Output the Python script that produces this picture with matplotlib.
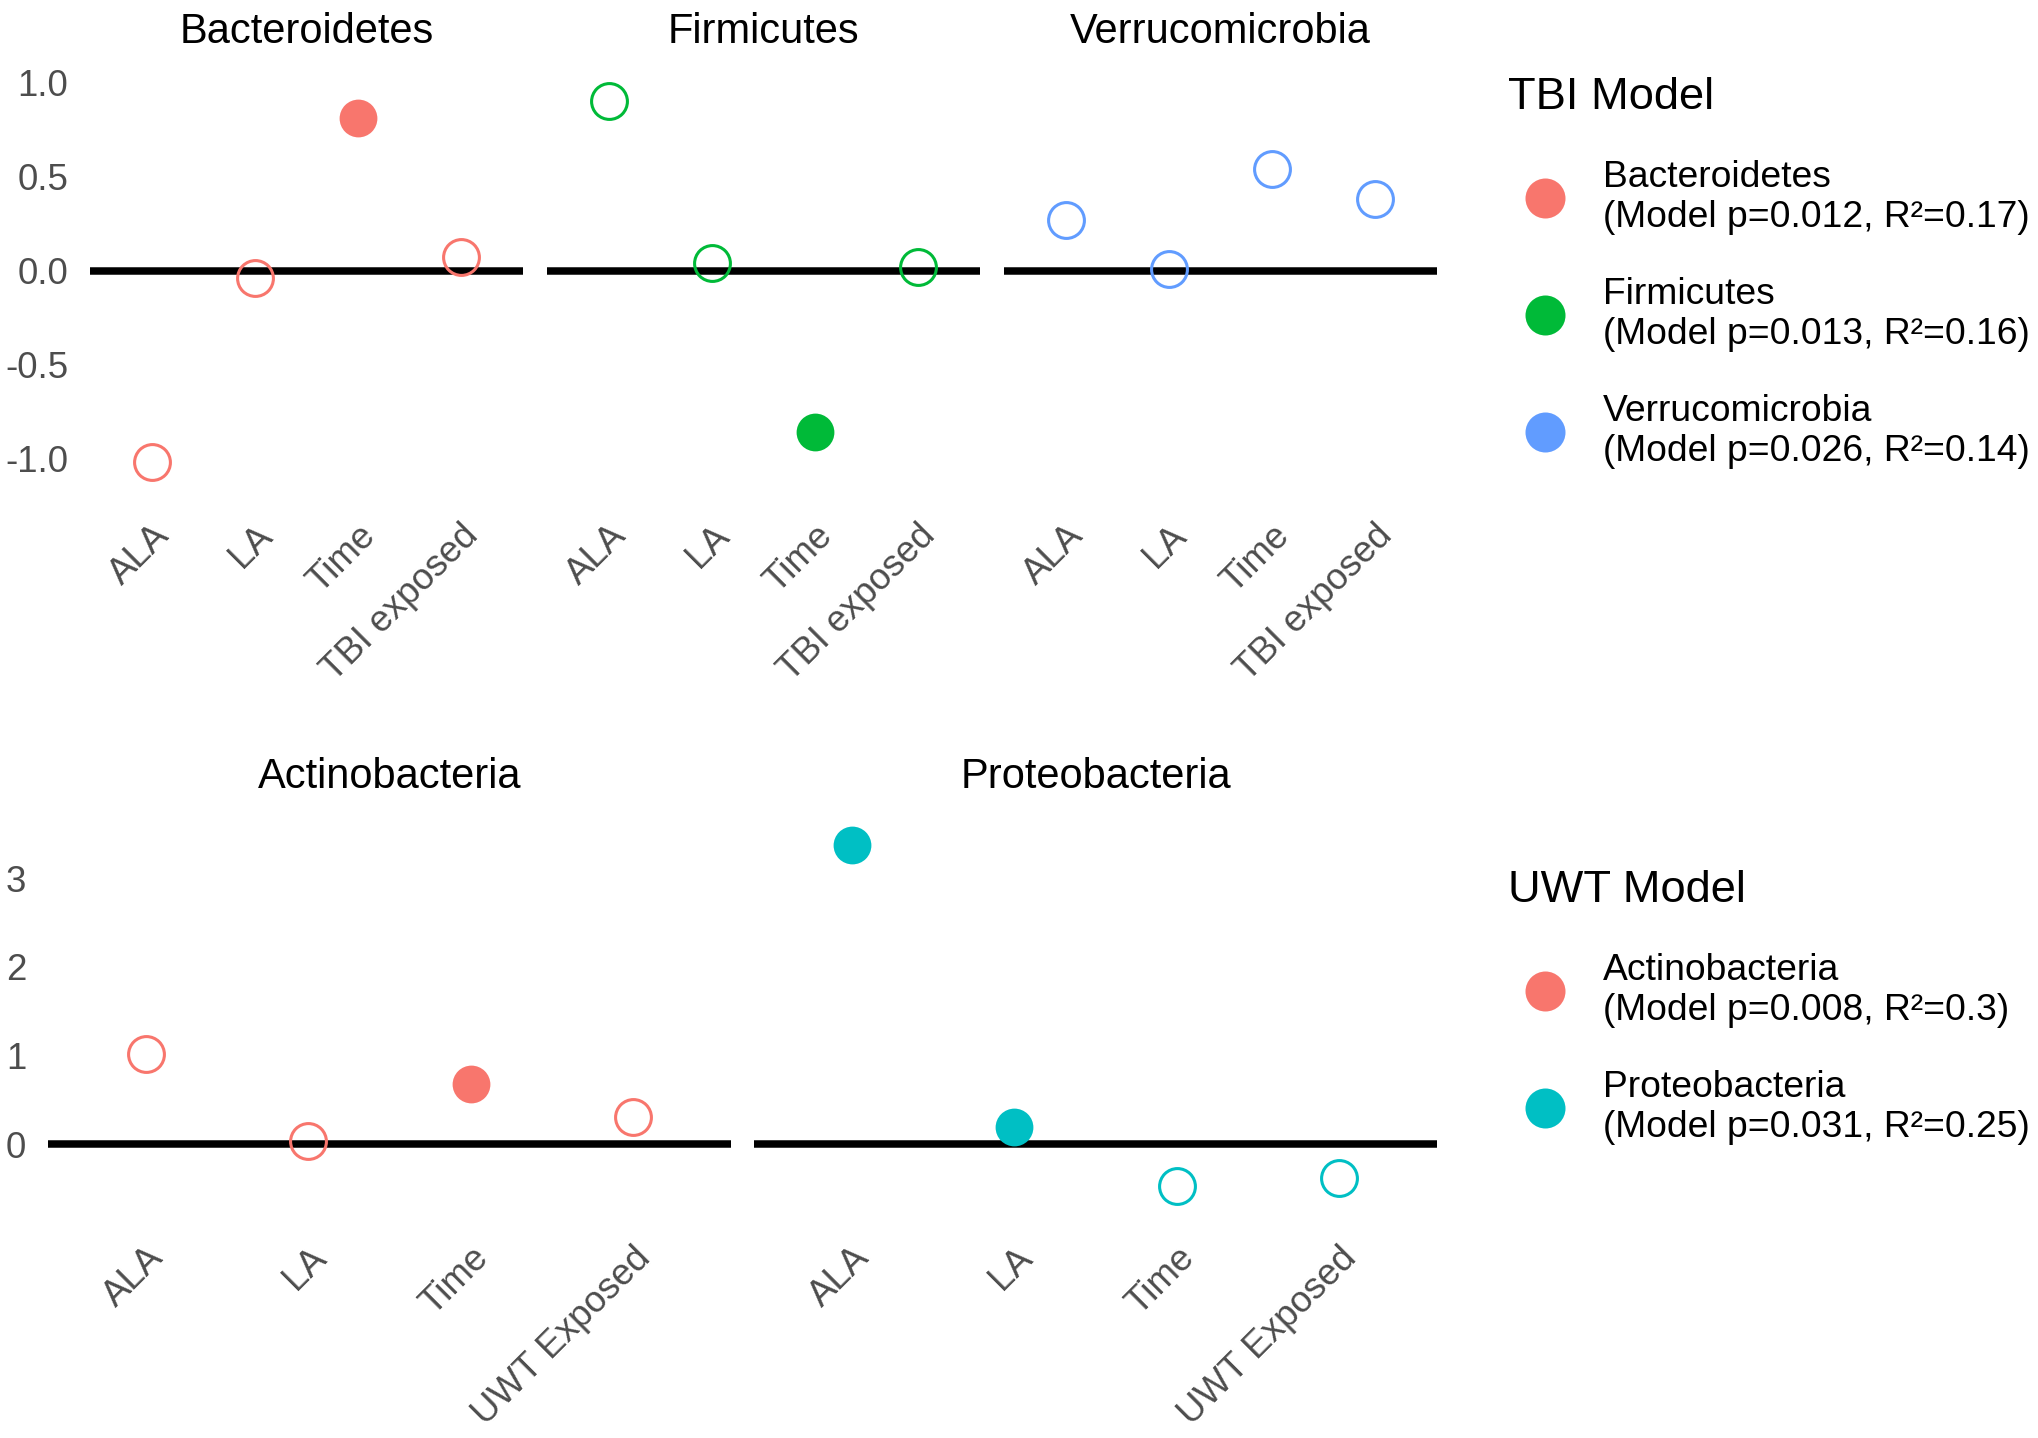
import numpy as np
import matplotlib
matplotlib.use("Agg")
import matplotlib.pyplot as plt
from matplotlib.lines import Line2D

plt.rcParams['font.family'] = ['Liberation Sans', 'DejaVu Sans']
plt.rcParams['axes.unicode_minus'] = False

W, H = 2038, 1438

# --- data ---
tbi_terms = ["ALA", "LA", "Time", "TBI exposed"]
uwt_terms = ["ALA", "LA", "Time", "UWT Exposed"]

tbi_phyla = ["Bacteroidetes", "Firmicutes", "Verrucomicrobia"]
bacteroidetes_est = [-1.02, -0.04, 0.81, 0.07]
firmicutes_est = [0.90, 0.04, -0.86, 0.02]
verrucomicrobia_est = [0.27, 0.01, 0.54, 0.38]
bacteroidetes_sig = [False, False, True, False]
firmicutes_sig = [False, False, True, False]
verrucomicrobia_sig = [False, False, False, False]
tbi_pvals = ["0.012", "0.013", "0.026"]
tbi_r2 = ["0.17", "0.16", "0.14"]

uwt_phyla = ["Actinobacteria", "Proteobacteria"]
actinobacteria_est = [1.02, 0.03, 0.68, 0.31]
proteobacteria_est = [3.38, 0.19, -0.47, -0.38]
actinobacteria_sig = [False, False, True, False]
proteobacteria_sig = [True, True, False, False]
uwt_pvals = ["0.008", "0.031"]
uwt_r2 = ["0.3", "0.25"]

tbi_colors = ["#F8766D", "#00BA38", "#619CFF"]
uwt_colors = ["#F8766D", "#00BFC4"]


def rect(x0, y0, x1, y1):
    """pixel box (top-left origin) -> figure fraction"""
    return [x0 / W, 1 - y1 / H, (x1 - x0) / W, (y1 - y0) / H]


def draw_panel(ax, terms, est, sig, color, title, ylim, yticks, show_y):
    x = np.arange(len(terms))
    est = np.array(est)
    sig = np.array(sig)
    ax.axhline(0, color='black', lw=2.7, zorder=1)
    ax.plot(x[sig], est[sig], 'o', ls='none', ms=13.6, mfc=color, mec=color, mew=0, zorder=3)
    ax.plot(x[~sig], est[~sig], 'o', ls='none', ms=12.9, mfc='none', mec=color, mew=1.1, zorder=3)
    ax.set_xlim(-0.6, len(terms) - 0.4)
    ax.set_ylim(*ylim)
    ax.set_xticks(x)
    ax.set_xticklabels(terms, rotation=45, ha='right', va='top', rotation_mode='anchor',
                       fontsize=13.2, color='#4D4D4D')
    ax.set_yticks(yticks)
    if show_y:
        ax.set_yticklabels([f"{t:.1f}" if isinstance(t, float) else str(t) for t in yticks],
                           fontsize=13.2, color='#4D4D4D')
    else:
        ax.set_yticklabels([])
    ax.tick_params(length=0, pad=0)
    ax.tick_params(axis='x', pad=5.5)
    ax.tick_params(axis='y', pad=7.9)
    for s in ax.spines.values():
        s.set_visible(False)
    ax.set_facecolor('none')
    ax.set_title(title, fontsize=15, color='black', pad=4.3)


fig = plt.figure(figsize=(W / 200, H / 200), dpi=200)

top_boxes = [(90, 55, 523, 503), (547, 55, 980, 503), (1004, 55, 1437, 503)]
top_est = [bacteroidetes_est, firmicutes_est, verrucomicrobia_est]
top_sig = [bacteroidetes_sig, firmicutes_sig, verrucomicrobia_sig]
for i, box in enumerate(top_boxes):
    ax = fig.add_axes(rect(*box))
    draw_panel(ax, tbi_terms, top_est[i], top_sig[i], tbi_colors[i], tbi_phyla[i],
               (-1.236, 1.147), [-1.0, -0.5, 0.0, 0.5, 1.0], i == 0)

bot_boxes = [(48, 800, 731, 1225), (754, 800, 1437, 1225)]
bot_est = [actinobacteria_est, proteobacteria_est]
bot_sig = [actinobacteria_sig, proteobacteria_sig]
for i, box in enumerate(bot_boxes):
    ax = fig.add_axes(rect(*box))
    draw_panel(ax, uwt_terms, bot_est[i], bot_sig[i], uwt_colors[i], uwt_phyla[i],
               (-0.914, 3.883), [0, 1, 2, 3], i == 0)


def add_legend(title, names, pvals, r2s, colors, x, y):
    handles = [Line2D([], [], ls='none', marker='o', ms=14.4, mfc=c, mec=c, mew=0) for c in colors]
    labels = [f"{n}\n(Model p={p}, R\u00b2={r})" for n, p, r in zip(names, pvals, r2s)]
    leg = fig.legend(handles, labels, loc='upper left', bbox_to_anchor=(x / W, 1 - y / H),
                     frameon=False, title=title, title_fontsize=16.3, fontsize=13.4,
                     alignment='left', handlelength=2.0, handletextpad=0.55,
                     labelspacing=1.12, borderpad=0, borderaxespad=0)
    for t in leg.get_texts():
        t.set_linespacing(1.2)
    return leg


add_legend("TBI Model", tbi_phyla, tbi_pvals, tbi_r2, tbi_colors, 1508, 77)
add_legend("UWT Model", uwt_phyla, uwt_pvals, uwt_r2, uwt_colors, 1508, 870)

fig.savefig("out.png", dpi=200, facecolor='white')
